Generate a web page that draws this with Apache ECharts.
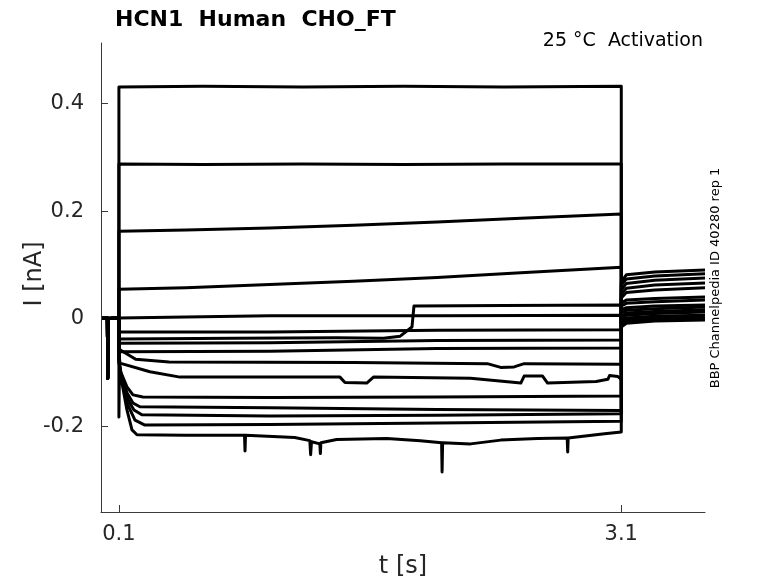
<!DOCTYPE html>
<html><head><meta charset="utf-8">
<script src="https://cdn.jsdelivr.net/npm/echarts@6/dist/echarts.min.js"></script>
<style>html,body{margin:0;padding:0;background:#fff}#c{width:778px;height:583px}</style>
</head><body><div id="c"></div>
<script>
// tick positions
const xTicks = [0.1, 3.1];
const yTicks = [-0.2, 0, 0.2, 0.4];

// holding segment (shared by every sweep): [t (s), I (nA)]
const holding = [[0, 0.002], [0.031, 0.002], [0.033, -0.11], [0.036, 0.001], [0.1, 0.002]];

// step + tail for each sweep: [t (s), I (nA)]
const trace01 = [[0.1,0.431],[0.6,0.432],[1.2,0.431],[1.8,0.432],[2.4,0.431],[3.1,0.432],[3.1,-0.015],[3.13,-0.008],[3.3,-0.004],[3.6,-0.002]];
const trace02 = [[0.1,0.288],[0.6,0.287],[1.2,0.288],[1.8,0.287],[2.4,0.288],[3.1,0.288],[3.1,-0.013],[3.13,-0.006],[3.3,-0.002],[3.6,0.0]];
const trace03 = [[0.1,0.163],[0.5,0.165],[1.0,0.169],[1.5,0.174],[2.0,0.180],[2.5,0.187],[3.1,0.195],[3.1,-0.013],[3.13,-0.004],[3.3,0.0],[3.6,0.002]];
const trace04 = [[0.1,0.055],[0.5,0.058],[1.0,0.064],[1.5,0.070],[2.0,0.077],[2.5,0.086],[3.1,0.096],[3.1,-0.009],[3.13,0.0],[3.3,0.004],[3.6,0.006]];
const trace05 = [[0.1,0.005],[1.0,0.006],[2.0,0.006],[3.1,0.007],[3.1,-0.006],[3.13,0.002],[3.3,0.005],[3.6,0.007]];
const trace06 = [[0.1,-0.037],[0.8,-0.036],[1.4,-0.035],[1.68,-0.036],[1.78,-0.032],[1.85,-0.015],[1.862,0.024],[2.4,0.025],[3.1,0.026],[3.1,0.0],[3.13,0.007],[3.3,0.010],[3.6,0.013]];
const trace07 = [[0.1,-0.024],[1.0,-0.024],[2.0,-0.021],[3.1,-0.020],[3.1,0.004],[3.13,0.011],[3.3,0.014],[3.6,0.017]];
const trace08 = [[0.1,-0.045],[1.0,-0.044],[2.0,-0.040],[3.1,-0.039],[3.1,0.011],[3.13,0.016],[3.3,0.019],[3.6,0.022]];
const trace09 = [[0.1,-0.061],[1.0,-0.060],[2.0,-0.055],[3.1,-0.054],[3.1,0.017],[3.13,0.021],[3.3,0.024],[3.6,0.026]];
const trace10 = [[0.1,-0.050],[0.106,-0.057],[0.2,-0.075],[0.4,-0.080],[1.5,-0.081],[2.3,-0.083],[2.38,-0.090],[2.46,-0.089],[2.52,-0.083],[3.1,-0.084],[3.1,0.024],[3.13,0.029],[3.3,0.032],[3.6,0.035]];
const trace11 = [[0.1,-0.060],[0.106,-0.082],[0.285,-0.098],[0.465,-0.108],[1.0,-0.108],[1.42,-0.108],[1.45,-0.118],[1.58,-0.119],[1.62,-0.108],[2.2,-0.110],[2.5,-0.119],[2.52,-0.106],[2.63,-0.106],[2.66,-0.119],[2.95,-0.116],[3.02,-0.112],[3.03,-0.105],[3.08,-0.107],[3.1,-0.112],[3.1,0.030],[3.13,0.035],[3.3,0.038],[3.6,0.041]];
const trace12 = [[0.1,-0.070],[0.106,-0.095],[0.148,-0.126],[0.184,-0.141],[0.243,-0.145],[1.0,-0.146],[2.0,-0.145],[3.1,-0.143],[3.1,0.039],[3.13,0.049],[3.3,0.054],[3.6,0.058]];
const trace13 = [[0.1,-0.075],[0.112,-0.100],[0.148,-0.137],[0.184,-0.156],[0.225,-0.163],[1.0,-0.165],[2.0,-0.168],[3.1,-0.170],[3.1,0.046],[3.13,0.057],[3.3,0.063],[3.6,0.067]];
const trace14 = [[0.1,-0.078],[0.112,-0.104],[0.154,-0.150],[0.190,-0.169],[0.237,-0.178],[1.0,-0.180],[2.0,-0.179],[3.1,-0.176],[3.1,0.054],[3.13,0.066],[3.3,0.072],[3.6,0.076]];
const trace15 = [[0.1,-0.080],[0.112,-0.106],[0.154,-0.160],[0.196,-0.188],[0.255,-0.197],[1.0,-0.196],[2.0,-0.193],[3.1,-0.190],[3.1,0.063],[3.13,0.074],[3.3,0.080],[3.6,0.084]];
const trace16 = [[0.1,-0.182],[0.103,-0.100],[0.112,-0.108],[0.148,-0.169],[0.178,-0.206],[0.208,-0.215],[0.5,-0.216],[0.85,-0.216],[0.853,-0.245],[0.856,-0.216],[1.15,-0.220],[1.24,-0.226],[1.245,-0.252],[1.25,-0.228],[1.30,-0.232],[1.303,-0.250],[1.306,-0.230],[1.40,-0.224],[1.7,-0.222],[1.9,-0.226],[2.027,-0.230],[2.03,-0.284],[2.033,-0.230],[2.2,-0.232],[2.38,-0.225],[2.6,-0.222],[2.777,-0.221],[2.78,-0.247],[2.783,-0.221],[3.0,-0.213],[3.1,-0.210],[3.1,0.069],[3.13,0.082],[3.3,0.087],[3.6,0.091]];

const traces = [trace01,trace02,trace03,trace04,trace05,trace06,trace07,trace08,trace09,trace10,trace11,trace12,trace13,trace14,trace15,trace16];

const FONT = '"DejaVu Sans"';
const AXC = '#3a3a3a';
const chart = echarts.init(document.getElementById('c'), null, {renderer:'canvas'});
chart.setOption({
  animation: false,
  grid: {left:101, right:73, top:43, bottom:71},
  xAxis: {
    type:'value', min:-0.007, max:3.6,
    axisLine:{show:true, onZero:false, lineStyle:{color:AXC, width:1}},
    axisTick:{show:true, inside:true, length:7, customValues:xTicks, lineStyle:{color:AXC}},
    axisLabel:{customValues:xTicks, fontSize:21, color:'#262626', margin:12, fontFamily:'DejaVu Sans', formatter:v=>v.toFixed(1)},
    splitLine:{show:false}
  },
  yAxis: {
    type:'value', min:-0.3585, max:0.5125,
    axisLine:{show:true, onZero:false, lineStyle:{color:AXC, width:1}},
    axisTick:{show:true, inside:true, length:7, customValues:yTicks, lineStyle:{color:AXC}},
    axisLabel:{customValues:yTicks, fontSize:21, color:'#262626', margin:17, fontFamily:'DejaVu Sans', formatter:v=>(Math.abs(v)<1e-9?'0':v.toFixed(1))},
    splitLine:{show:false}
  },
  series: traces.map((d,i)=>({
    type:'line', name:'sweep'+(i+1), data:holding.concat(d), showSymbol:false, silent:true,
    lineStyle:{color:'#000', width:3, join:'round'}
  })),
  graphic: [
    {type:'text', x:115, y:20, style:{text:'HCN1  Human  CHO_FT', font:'bold 22px '+FONT, fill:'#000', textAlign:'left', textVerticalAlign:'middle'}},
    {type:'text', x:703, y:41, style:{text:'25 °C  Activation', font:'19px '+FONT, fill:'#000', textAlign:'right', textVerticalAlign:'middle'}},
    {type:'text', x:716, y:278, rotation:Math.PI/2, style:{text:'BBP Channelpedia ID 40280 rep 1', font:'13px '+FONT, fill:'#000', textAlign:'center', textVerticalAlign:'middle'}},
    {type:'text', x:35, y:274, rotation:Math.PI/2, style:{text:'I [nA]', font:'24px '+FONT, fill:'#262626', textAlign:'center', textVerticalAlign:'middle'}},
    {type:'text', x:403, y:567, style:{text:'t [s]', font:'24px '+FONT, fill:'#262626', textAlign:'center', textVerticalAlign:'middle'}}
  ]
});
</script>
</body></html>
